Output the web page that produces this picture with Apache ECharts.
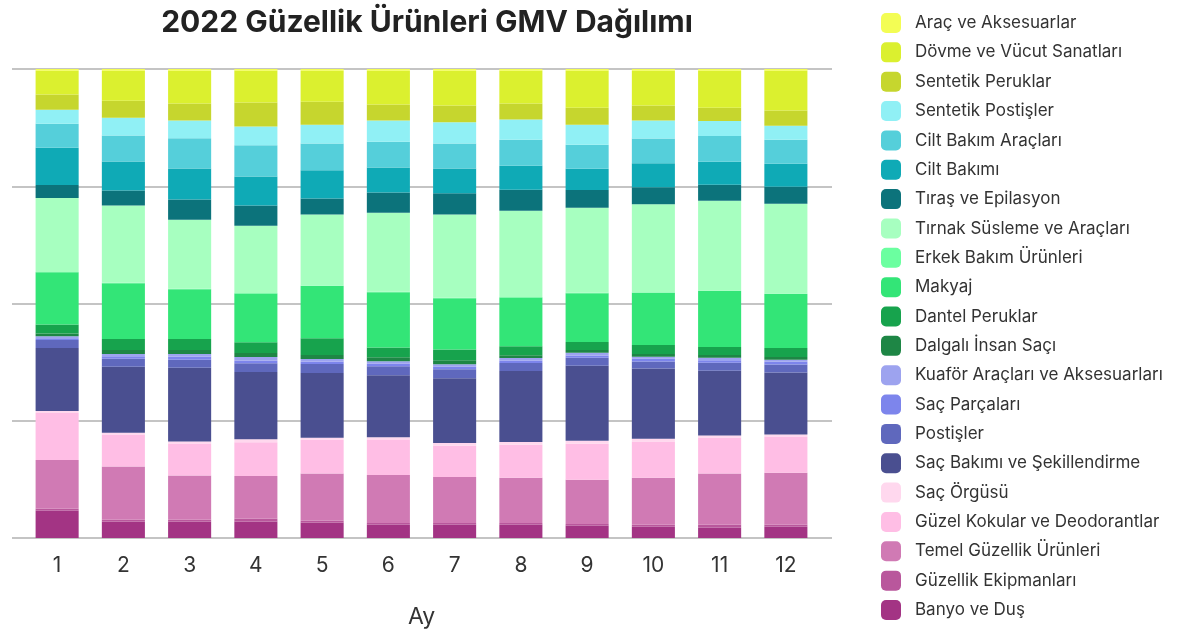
<!DOCTYPE html>
<html>
<head>
<meta charset="utf-8">
<script src="https://cdn.jsdelivr.net/npm/echarts@6/dist/echarts.min.js"></script>
<style>html,body{margin:0;padding:0;background:#fff;}#c{width:1197px;height:630px;}</style>
</head>
<body>
<div id="c"></div>
<script>
// Months (categories)
const months = ['1','2','3','4','5','6','7','8','9','10','11','12'];

// Series names, bottom of stack first
const names = [
  'Banyo ve Duş','Güzellik Ekipmanları','Temel Güzellik Ürünleri','Güzel Kokular ve Deodorantlar','Saç Örgüsü',
  'Saç Bakımı ve Şekillendirme','Postişler','Saç Parçaları','Kuaför Araçları ve Aksesuarları','Dalgalı İnsan Saçı',
  'Dantel Peruklar','Makyaj','Erkek Bakım Ürünleri','Tırnak Süsleme ve Araçları','Tıraş ve Epilasyon',
  'Cilt Bakımı','Cilt Bakım Araçları','Sentetik Postişler','Sentetik Peruklar','Dövme ve Vücut Sanatları','Araç ve Aksesuarlar'
];

// Shares (%) per month
const banyo      = [5.8,3.5,3.5,3.5,3.3,2.8,2.8,2.8,2.6,2.4,2.2,2.4];
const ekipman    = [0.4,0.4,0.4,0.6,0.4,0.4,0.4,0.4,0.4,0.4,0.6,0.4];
const temel      = [10.4,11.3,9.4,9.1,10.0,10.2,9.8,9.6,9.4,10.0,10.9,11.1];
const kokular    = [10.0,6.8,6.8,7.2,7.2,7.4,6.6,7.0,7.7,7.7,7.7,7.7];
const orgu       = [0.4,0.4,0.4,0.6,0.4,0.6,0.6,0.6,0.6,0.6,0.4,0.4];
const sacBakim   = [13.4,14.0,15.7,14.3,13.8,13.2,13.8,15.1,16.0,14.9,13.8,13.2];
const postis     = [1.7,1.7,1.7,1.9,1.9,1.9,1.9,1.7,1.7,1.5,1.7,1.7];
const sacParca   = [0.4,0.55,0.7,0.5,0.55,0.55,0.5,0.5,0.5,0.6,0.5,0.6];
const kuafor     = [0.4,0.5,0.55,0.8,0.5,0.5,0.55,0.55,0.55,0.4,0.55,0.4];
const dalgali    = [0.6,0.85,0.85,0.85,0.85,0.85,0.85,0.6,0.6,0.6,0.6,0.6];
const dantel     = [1.9,2.3,2.3,2.3,3.6,2.1,2.3,1.9,1.7,1.9,1.7,1.9];
const makyaj     = [11.1,11.9,10.6,10.4,11.1,11.7,10.9,10.4,10.4,11.1,11.9,11.5];
const erkek      = [0.1,0.1,0.1,0.1,0.1,0.1,0.1,0.1,0.1,0.1,0.1,0.1];
const tirnak     = [15.7,16.4,14.7,14.3,15.1,16.8,17.7,18.3,18.1,18.7,19.1,19.1];
const tiras      = [2.8,3.2,4.3,4.3,3.4,4.3,4.5,4.5,3.8,3.6,3.4,3.6];
const ciltBakim  = [7.9,6.2,6.6,6.2,6.0,5.3,5.3,5.1,4.5,5.1,4.9,4.9];
const ciltArac   = [5.1,5.5,6.4,6.6,5.7,5.5,5.3,5.5,5.1,5.3,5.5,5.1];
const sentPostis = [3.0,3.8,3.8,4.0,4.0,4.5,4.5,4.3,4.3,3.8,3.2,3.0];
const sentPeruk  = [3.2,3.6,3.6,5.1,4.9,3.4,3.6,3.4,3.6,3.2,2.8,3.2];
const dovme      = [5.1,6.4,7.0,6.8,6.6,7.2,7.4,7.0,7.9,7.4,7.9,8.5];
const arac       = [0.35,0.35,0.35,0.35,0.35,0.35,0.35,0.35,0.35,0.35,0.35,0.35];

const values = [banyo,ekipman,temel,kokular,orgu,sacBakim,postis,sacParca,kuafor,dalgali,dantel,makyaj,erkek,tirnak,tiras,ciltBakim,ciltArac,sentPostis,sentPeruk,dovme,arac];

const colors = ['#a33484','#b9579c','#d07ab4','#ffbee5','#ffd8ee','#4a4f90','#5f68bd','#7d85ec','#9da3ef','#1e8645',
  '#17a34d','#33e577','#6bffa0','#a7ffc0','#0c737b','#0faab6','#55cfda','#90f0f5','#c6d62e','#dbf02f','#f3fd54'];

const totals = months.map((m,i)=>values.reduce((s,arr)=>s+arr[i],0));

const series = names.map((n,k)=>({
  name:n, type:'bar', stack:'all', barWidth:'65%',
  xAxisIndex:0, yAxisIndex:0,
  itemStyle:{color:colors[k]},
  data: values[k].map((v,i)=>v/totals[i]*100)
}));

const FONT = 'Inter, "Noto Sans", sans-serif';
const chart = echarts.init(document.getElementById('c'));
chart.setOption({
  animation:false,
  textStyle:{fontFamily:FONT},
  title:{text:'2022 Güzellik Ürünleri GMV Dağılımı', left:422, top:3, textAlign:'center',
    textStyle:{fontSize:30, fontWeight:'bold', color:'#222', fontFamily:FONT}},
  legend:{orient:'vertical', left:876, top:8, itemWidth:20, itemHeight:20, itemGap:9.35,
    icon:'roundRect', data:names.slice().reverse(),
    textStyle:{fontSize:17, color:'#333', fontFamily:FONT, padding:[0,0,0,9]}},
  grid:[
    {left:24, right:378, top:69, bottom:92, outerBoundsMode:'none', containLabel:false},
    {left:12, right:365, top:69, bottom:92, outerBoundsMode:'none', containLabel:false, z:0}
  ],
  xAxis:[
    {type:'category', data:months, gridIndex:0, name:'Ay', nameLocation:'middle', nameGap:68,
      nameTextStyle:{fontSize:23, color:'#333'},
      axisLine:{show:false}, axisTick:{show:false},
      axisLabel:{fontSize:21, color:'#333', margin:17}},
    {type:'category', data:months, gridIndex:1, show:false}
  ],
  yAxis:[
    {type:'value', gridIndex:0, min:0, max:100, interval:25, axisLabel:{show:false},
      axisLine:{show:false}, axisTick:{show:false}, splitLine:{show:false}},
    {type:'value', gridIndex:1, min:0, max:100, interval:25, axisLabel:{show:false},
      axisLine:{show:false}, axisTick:{show:false},
      splitLine:{lineStyle:{color:'#c4c4c4', width:2}}}
  ],
  series:series
});
</script>
</body>
</html>
